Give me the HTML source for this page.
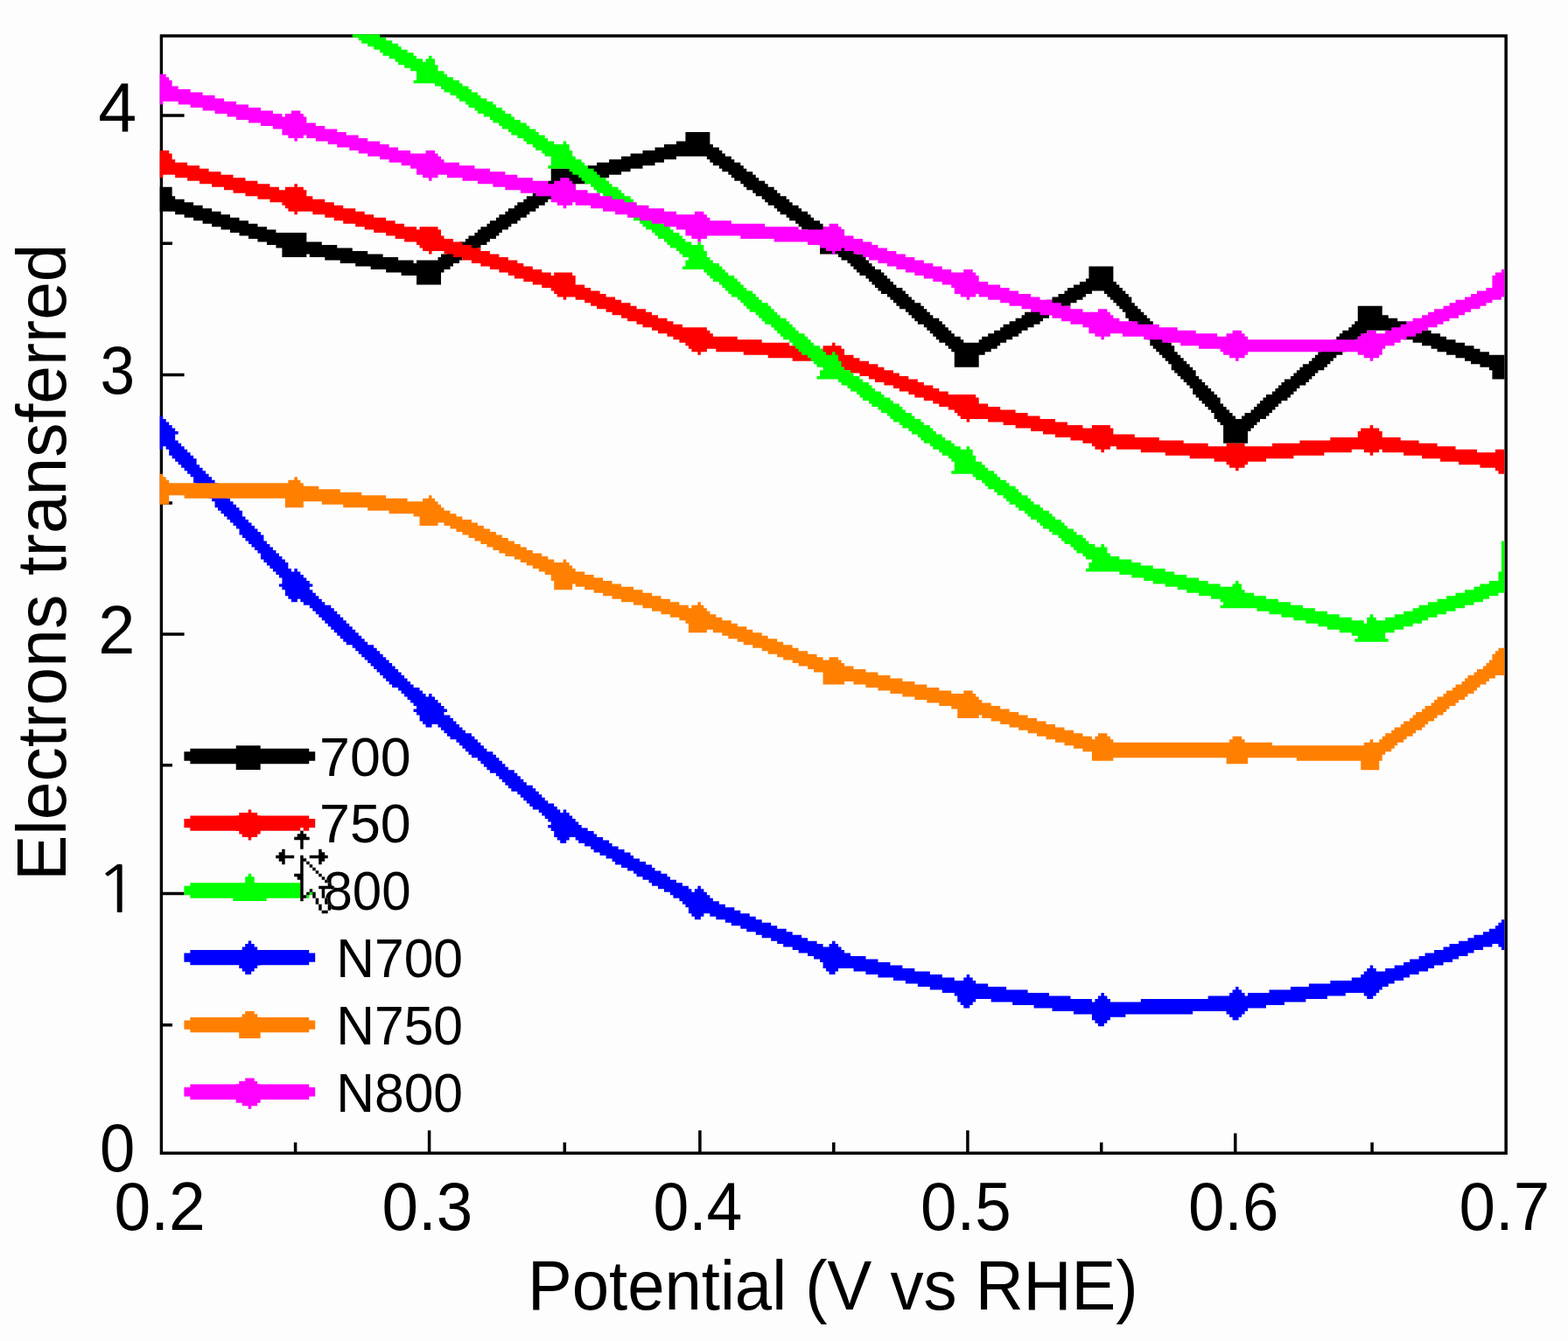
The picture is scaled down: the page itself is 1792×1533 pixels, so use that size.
<!DOCTYPE html>
<html lang="en"><head><meta charset="utf-8"><title>Electrons transferred vs Potential (V vs RHE)</title>
<style>html,body{margin:0;padding:0;background:#fdfdfd;}body{width:1792px;height:1533px;overflow:hidden;}svg{display:block;}text{font-family:"Liberation Sans",Arial,Helvetica,sans-serif;fill:#000;}</style>
</head><body>
<svg width="1792" height="1533" viewBox="0 0 1792 1533">
<rect width="1792" height="1533" fill="#fdfdfd"/>
<defs><clipPath id="plot"><rect x="182.7" y="39.3" width="1536.7" height="1277.1"/></clipPath></defs>
<path d="M182.7 39.3H186.1V1319.9H182.7zM1719.4 39.3H1722.9V1319.9H1719.4zM182.7 39.3H1722.9V42.75H182.7zM182.7 1316.4H1722.9V1319.9H182.7zM186.1 130.2H210.6V133.7H186.1zM186.1 426.65H210.6V430.15H186.1zM186.1 723.15H210.6V726.65H186.1zM186.1 1019.75H210.6V1023.25H186.1zM186.1 276.55H197V280.05H186.1zM186.1 573.25H197V576.75H186.1zM186.1 873.05H197V876.55H186.1zM186.1 1169.95H197V1173.45H186.1zM488.85 1292.2H492.35V1316.4H488.85zM798.15 1292.2H801.65V1316.4H798.15zM1104.15 1292.2H1107.65V1316.4H1104.15zM1410 1295.6H1413.5V1316.4H1410zM335.85 1306H339.35V1316.4H335.85zM643.55 1306H647.05V1316.4H643.55zM951.05 1306H954.55V1316.4H951.05zM1256.95 1306H1260.45V1316.4H1256.95zM1566.35 1306H1569.85V1316.4H1566.35z" fill="#000"/>
<path d="M783.41 150.96H811.35V154.45H783.41zM783.41 154.45H811.35V157.94H783.41zM783.41 157.94H811.35V161.43H783.41zM772.93 161.43H811.35V164.92H772.93zM758.96 164.92H814.84V168.41H758.96zM748.49 168.41H821.83V171.9H748.49zM734.52 171.9H825.32V175.38H734.52zM720.55 175.38H828.81V178.87H720.55zM710.07 178.87H772.93V182.36H710.07zM807.86 178.87H835.8V182.36H807.86zM696.1 182.36H758.96V185.85H696.1zM811.35 182.36H839.29V185.85H811.35zM682.13 185.85H748.49V189.34H682.13zM814.84 185.85H846.28V189.34H814.84zM671.65 189.34H734.52V192.83H671.65zM821.83 189.34H849.77V192.83H821.83zM629.74 192.83H720.55V196.32H629.74zM825.32 192.83H853.26V196.32H825.32zM629.74 196.32H710.07V199.81H629.74zM832.31 196.32H860.25V199.81H832.31zM629.74 199.81H696.1V203.3H629.74zM835.8 199.81H863.74V203.3H835.8zM629.74 203.3H682.13V206.79H629.74zM839.29 203.3H867.23V206.79H839.29zM626.25 206.79H671.65V210.28H626.25zM846.28 206.79H874.21V210.28H846.28zM622.75 210.28H657.68V213.77H622.75zM849.77 210.28H877.71V213.77H849.77zM182.7 213.77H196.67V217.26H182.7zM619.26 213.77H657.68V217.26H619.26zM853.26 213.77H884.69V217.26H853.26zM182.7 217.26H196.67V220.75H182.7zM612.28 217.26H657.68V220.75H612.28zM860.25 217.26H888.18V220.75H860.25zM182.7 220.75H196.67V224.24H182.7zM608.79 220.75H636.73V224.24H608.79zM863.74 220.75H891.68V224.24H863.74zM182.7 224.24H200.16V227.72H182.7zM601.8 224.24H633.23V227.72H601.8zM870.72 224.24H898.66V227.72H870.72zM182.7 227.72H210.64V231.21H182.7zM598.31 227.72H626.25V231.21H598.31zM874.21 227.72H902.15V231.21H874.21zM182.7 231.21H221.12V234.7H182.7zM591.32 231.21H622.75V234.7H591.32zM877.71 231.21H905.65V234.7H877.71zM182.7 234.7H231.59V238.19H182.7zM587.83 234.7H615.77V238.19H587.83zM884.69 234.7H912.63V238.19H884.69zM182.7 238.19H242.07V241.68H182.7zM580.85 238.19H612.28V241.68H580.85zM888.18 238.19H916.12V241.68H888.18zM200.16 241.68H252.55V245.17H200.16zM577.35 241.68H605.29V245.17H577.35zM891.68 241.68H923.11V245.17H891.68zM210.64 245.17H263.03V248.66H210.64zM570.37 245.17H601.8V248.66H570.37zM898.66 245.17H926.6V248.66H898.66zM221.12 248.66H273.5V252.15H221.12zM566.88 248.66H594.82V252.15H566.88zM902.15 248.66H930.1V252.15H902.15zM231.59 252.15H283.98V255.64H231.59zM559.89 252.15H591.32V255.64H559.89zM909.14 252.15H937.08V255.64H909.14zM242.07 255.64H294.46V259.13H242.07zM556.4 255.64H584.34V259.13H556.4zM912.63 255.64H940.57V259.13H912.63zM252.55 259.13H304.94V262.62H252.55zM549.41 259.13H580.85V262.62H549.41zM916.12 259.13H944.07V262.62H916.12zM263.03 262.62H315.41V266.11H263.03zM545.92 262.62H573.86V266.11H545.92zM923.11 262.62H965.02V266.11H923.11zM273.5 266.11H350.34V269.6H273.5zM542.43 266.11H570.37V269.6H542.43zM926.6 266.11H965.02V269.6H926.6zM283.98 269.6H350.34V273.09H283.98zM535.44 269.6H566.88V273.09H535.44zM930.1 269.6H965.02V273.09H930.1zM294.46 273.09H350.34V276.58H294.46zM531.95 273.09H559.89V276.58H531.95zM937.08 273.09H965.02V276.58H937.08zM304.94 276.58H367.8V280.06H304.94zM524.97 276.58H556.4V280.06H524.97zM937.08 276.58H968.51V280.06H937.08zM315.41 280.06H385.26V283.55H315.41zM521.47 280.06H549.41V283.55H521.47zM937.08 280.06H972.01V283.55H937.08zM322.4 283.55H402.73V287.04H322.4zM514.49 283.55H545.92V287.04H514.49zM937.08 283.55H975.5V287.04H937.08zM322.4 287.04H420.19V290.53H322.4zM511 287.04H538.93V290.53H511zM937.08 287.04H978.99V290.53H937.08zM322.4 290.53H350.34V294.02H322.4zM353.83 290.53H437.65V294.02H353.83zM504.01 290.53H535.44V294.02H504.01zM958.04 290.53H985.98V294.02H958.04zM371.29 294.02H455.12V297.51H371.29zM500.52 294.02H528.46V297.51H500.52zM961.53 294.02H989.47V297.51H961.53zM388.76 297.51H472.58V301H388.76zM476.07 297.51H524.97V301H476.07zM968.51 297.51H992.96V301H968.51zM406.22 301H517.98V304.49H406.22zM972.01 301H996.45V304.49H972.01zM423.68 304.49H514.49V307.98H423.68zM975.5 304.49H999.94V307.98H975.5zM1244.42 304.49H1272.36V307.98H1244.42zM441.14 307.98H507.5V311.47H441.14zM978.99 307.98H1006.93V311.47H978.99zM1244.42 307.98H1272.36V311.47H1244.42zM458.61 311.47H504.01V314.96H458.61zM982.48 311.47H1010.42V314.96H982.48zM1244.42 311.47H1272.36V314.96H1244.42zM476.07 314.96H504.01V318.45H476.07zM989.47 314.96H1013.91V318.45H989.47zM1244.42 314.96H1272.36V318.45H1244.42zM476.07 318.45H504.01V321.94H476.07zM992.96 318.45H1017.41V321.94H992.96zM1240.93 318.45H1272.36V321.94H1240.93zM476.07 321.94H504.01V325.43H476.07zM996.45 321.94H1020.9V325.43H996.45zM1233.94 321.94H1275.85V325.43H1233.94zM999.94 325.43H1024.39V328.92H999.94zM1226.96 325.43H1279.35V328.92H1226.96zM1003.44 328.92H1031.38V332.4H1003.44zM1219.97 328.92H1282.84V332.4H1219.97zM1006.93 332.4H1034.87V335.89H1006.93zM1216.48 332.4H1247.91V335.89H1216.48zM1261.88 332.4H1286.33V335.89H1261.88zM1013.91 335.89H1038.36V339.38H1013.91zM1209.5 335.89H1240.93V339.38H1209.5zM1265.38 335.89H1289.82V339.38H1265.38zM1017.41 339.38H1041.86V342.87H1017.41zM1202.51 339.38H1237.44V342.87H1202.51zM1268.87 339.38H1293.32V342.87H1268.87zM1020.9 342.87H1045.35V346.36H1020.9zM1195.53 342.87H1230.45V346.36H1195.53zM1272.36 342.87H1293.32V346.36H1272.36zM1024.39 346.36H1052.33V349.85H1024.39zM1192.03 346.36H1223.47V349.85H1192.03zM1275.85 346.36H1296.81V349.85H1275.85zM1027.88 349.85H1055.83V353.34H1027.88zM1185.05 349.85H1216.48V353.34H1185.05zM1279.35 349.85H1300.3V353.34H1279.35zM1551.76 349.85H1579.7V353.34H1551.76zM1034.87 353.34H1059.32V356.83H1034.87zM1178.06 353.34H1212.99V356.83H1178.06zM1282.84 353.34H1303.79V356.83H1282.84zM1551.76 353.34H1579.7V356.83H1551.76zM1038.36 356.83H1062.81V360.32H1038.36zM1171.08 356.83H1206V360.32H1171.08zM1286.33 356.83H1307.29V360.32H1286.33zM1551.76 356.83H1579.7V360.32H1551.76zM1041.86 360.32H1066.3V363.81H1041.86zM1167.59 360.32H1199.02V363.81H1167.59zM1286.33 360.32H1310.78V363.81H1286.33zM1551.76 360.32H1586.69V363.81H1551.76zM1045.35 363.81H1073.29V367.3H1045.35zM1160.6 363.81H1192.03V367.3H1160.6zM1289.82 363.81H1314.27V367.3H1289.82zM1551.76 363.81H1597.16V367.3H1551.76zM1048.84 367.3H1076.78V370.79H1048.84zM1153.62 367.3H1188.54V370.79H1153.62zM1293.32 367.3H1317.76V370.79H1293.32zM1548.27 367.3H1607.64V370.79H1548.27zM1055.83 370.79H1080.27V374.28H1055.83zM1146.63 370.79H1181.56V374.28H1146.63zM1296.81 370.79H1317.76V374.28H1296.81zM1544.78 370.79H1614.62V374.28H1544.78zM1059.32 374.28H1083.77V377.77H1059.32zM1143.14 374.28H1174.57V377.77H1143.14zM1300.3 374.28H1321.26V377.77H1300.3zM1541.28 374.28H1625.1V377.77H1541.28zM1062.81 377.77H1087.26V381.26H1062.81zM1136.15 377.77H1167.59V381.26H1136.15zM1303.79 377.77H1324.75V381.26H1303.79zM1534.3 377.77H1562.24V381.26H1534.3zM1586.69 377.77H1635.58V381.26H1586.69zM1066.3 381.26H1090.75V384.75H1066.3zM1129.17 381.26H1164.09V384.75H1129.17zM1307.29 381.26H1328.24V384.75H1307.29zM1530.81 381.26H1558.75V384.75H1530.81zM1597.16 381.26H1646.06V384.75H1597.16zM1069.8 384.75H1097.74V388.23H1069.8zM1122.18 384.75H1157.11V388.23H1122.18zM1310.78 384.75H1331.73V388.23H1310.78zM1527.31 384.75H1551.76V388.23H1527.31zM1604.15 384.75H1653.04V388.23H1604.15zM1073.29 388.23H1101.23V391.72H1073.29zM1118.69 388.23H1150.12V391.72H1118.69zM1314.27 388.23H1335.23V391.72H1314.27zM1523.82 388.23H1548.27V391.72H1523.82zM1614.62 388.23H1663.52V391.72H1614.62zM1080.27 391.72H1143.14V395.21H1080.27zM1314.27 391.72H1338.72V395.21H1314.27zM1520.33 391.72H1544.78V395.21H1520.33zM1625.1 391.72H1674V395.21H1625.1zM1083.77 395.21H1139.64V398.7H1083.77zM1317.76 395.21H1342.21V398.7H1317.76zM1513.34 395.21H1541.28V398.7H1513.34zM1635.58 395.21H1684.48V398.7H1635.58zM1087.26 398.7H1132.66V402.19H1087.26zM1321.26 398.7H1342.21V402.19H1321.26zM1509.85 398.7H1537.79V402.19H1509.85zM1642.57 398.7H1691.46V402.19H1642.57zM1090.75 402.19H1125.67V405.68H1090.75zM1324.75 402.19H1345.7V405.68H1324.75zM1506.36 402.19H1534.3V405.68H1506.36zM1653.04 402.19H1701.94V405.68H1653.04zM1090.75 405.68H1118.69V409.17H1090.75zM1328.24 405.68H1349.2V409.17H1328.24zM1502.87 405.68H1527.31V409.17H1502.87zM1663.52 405.68H1719.4V409.17H1663.52zM1090.75 409.17H1118.69V412.66H1090.75zM1331.73 409.17H1352.69V412.66H1331.73zM1499.37 409.17H1523.82V412.66H1499.37zM1674 409.17H1719.4V412.66H1674zM1090.75 412.66H1118.69V416.15H1090.75zM1335.23 412.66H1356.18V416.15H1335.23zM1495.88 412.66H1520.33V416.15H1495.88zM1680.98 412.66H1719.4V416.15H1680.98zM1090.75 416.15H1118.69V419.64H1090.75zM1338.72 416.15H1359.67V419.64H1338.72zM1488.9 416.15H1516.84V419.64H1488.9zM1691.46 416.15H1719.4V419.64H1691.46zM1338.72 419.64H1363.17V423.13H1338.72zM1485.4 419.64H1513.34V423.13H1485.4zM1701.94 419.64H1719.4V423.13H1701.94zM1342.21 423.13H1366.66V426.62H1342.21zM1481.91 423.13H1506.36V426.62H1481.91zM1705.43 423.13H1719.4V426.62H1705.43zM1345.7 426.62H1366.66V430.11H1345.7zM1478.42 426.62H1502.87V430.11H1478.42zM1705.43 426.62H1719.4V430.11H1705.43zM1349.2 430.11H1370.15V433.6H1349.2zM1474.93 430.11H1499.37V433.6H1474.93zM1705.43 430.11H1719.4V433.6H1705.43zM1352.69 433.6H1373.64V437.09H1352.69zM1467.94 433.6H1495.88V437.09H1467.94zM1356.18 437.09H1377.13V440.57H1356.18zM1464.45 437.09H1492.39V440.57H1464.45zM1359.67 440.57H1380.63V444.06H1359.67zM1460.96 440.57H1485.4V444.06H1460.96zM1363.17 444.06H1384.12V447.55H1363.17zM1457.46 444.06H1481.91V447.55H1457.46zM1363.17 447.55H1387.61V451.04H1363.17zM1453.97 447.55H1478.42V451.04H1453.97zM1366.66 451.04H1391.11V454.53H1366.66zM1446.99 451.04H1474.93V454.53H1446.99zM1370.15 454.53H1394.6V458.02H1370.15zM1443.49 454.53H1471.43V458.02H1443.49zM1373.64 458.02H1394.6V461.51H1373.64zM1440 458.02H1464.45V461.51H1440zM1377.13 461.51H1398.09V465H1377.13zM1436.51 461.51H1460.96V465H1436.51zM1380.63 465H1401.58V468.49H1380.63zM1433.02 465H1457.46V468.49H1433.02zM1384.12 468.49H1405.08V471.98H1384.12zM1429.52 468.49H1453.97V471.98H1429.52zM1387.61 471.98H1408.57V475.47H1387.61zM1422.54 471.98H1450.48V475.47H1422.54zM1387.61 475.47H1412.06V478.96H1387.61zM1419.05 475.47H1446.99V478.96H1419.05zM1391.11 478.96H1440V482.45H1391.11zM1394.6 482.45H1436.51V485.94H1394.6zM1398.09 485.94H1433.02V489.43H1398.09zM1398.09 489.43H1429.52V492.91H1398.09zM1398.09 492.91H1426.03V496.4H1398.09zM1398.09 496.4H1426.03V499.89H1398.09zM1398.09 499.89H1426.03V503.38H1398.09zM1398.09 503.38H1426.03V506.87H1398.09z" fill="#000000"/>
<path d="M182.7 171.9H193.18V175.38H182.7zM182.7 175.38H196.67V178.87H182.7zM182.7 178.87H196.67V182.36H182.7zM182.7 182.36H200.16V185.85H182.7zM182.7 185.85H214.13V189.34H182.7zM182.7 189.34H228.1V192.83H182.7zM182.7 192.83H238.58V196.32H182.7zM182.7 196.32H252.55V199.81H182.7zM182.7 199.81H186.19V203.3H182.7zM200.16 199.81H266.52V203.3H200.16zM214.13 203.3H280.49V206.79H214.13zM228.1 206.79H294.46V210.28H228.1zM242.07 210.28H308.43V213.77H242.07zM336.37 210.28H339.86V213.77H336.37zM256.04 213.77H318.91V217.26H256.04zM325.89 213.77H346.85V217.26H325.89zM266.52 217.26H350.34V220.75H266.52zM280.49 220.75H350.34V224.24H280.49zM294.46 224.24H357.32V227.72H294.46zM308.43 227.72H371.29V231.21H308.43zM322.4 231.21H381.77V234.7H322.4zM325.89 234.7H392.25V238.19H325.89zM329.38 238.19H406.22V241.68H329.38zM336.37 241.68H339.86V245.17H336.37zM357.32 241.68H416.7V245.17H357.32zM371.29 245.17H427.18V248.66H371.29zM381.77 248.66H441.14V252.15H381.77zM392.25 252.15H451.62V255.64H392.25zM406.22 255.64H462.1V259.13H406.22zM416.7 259.13H476.07V262.62H416.7zM479.56 259.13H500.52V262.62H479.56zM427.18 262.62H504.01V266.11H427.18zM441.14 266.11H504.01V269.6H441.14zM451.62 269.6H507.5V273.09H451.62zM462.1 273.09H517.98V276.58H462.1zM476.07 276.58H528.46V280.06H476.07zM479.56 280.06H538.93V283.55H479.56zM483.06 283.55H549.41V287.04H483.06zM490.04 287.04H493.53V290.53H490.04zM507.5 287.04H559.89V290.53H507.5zM517.98 290.53H570.37V294.02H517.98zM528.46 294.02H580.85V297.51H528.46zM538.93 297.51H591.32V301H538.93zM549.41 301H598.31V304.49H549.41zM559.89 304.49H608.79V307.98H559.89zM570.37 307.98H619.26V311.47H570.37zM580.85 311.47H629.74V314.96H580.85zM633.23 311.47H654.19V314.96H633.23zM587.83 314.96H657.68V318.45H587.83zM598.31 318.45H657.68V321.94H598.31zM608.79 321.94H657.68V325.43H608.79zM619.26 325.43H668.16V328.92H619.26zM629.74 328.92H675.14V332.4H629.74zM633.23 332.4H685.62V335.89H633.23zM636.73 335.89H692.61V339.38H636.73zM643.71 339.38H647.2V342.87H643.71zM657.68 339.38H703.08V342.87H657.68zM668.16 342.87H710.07V346.36H668.16zM675.14 346.36H720.55V349.85H675.14zM682.13 349.85H727.53V353.34H682.13zM692.61 353.34H738.01V356.83H692.61zM699.59 356.83H744.99V360.32H699.59zM710.07 360.32H751.98V363.81H710.07zM717.05 363.81H762.45V367.3H717.05zM727.53 367.3H769.44V370.79H727.53zM734.52 370.79H779.92V374.28H734.52zM744.99 374.28H807.86V377.77H744.99zM751.98 377.77H811.35V381.26H751.98zM762.45 381.26H814.84V384.75H762.45zM769.44 384.75H842.78V388.23H769.44zM776.42 388.23H870.72V391.72H776.42zM783.41 391.72H902.15V395.21H783.41zM951.05 391.72H954.54V395.21H951.05zM786.9 395.21H930.1V398.7H786.9zM940.57 395.21H961.53V398.7H940.57zM790.39 398.7H807.86V402.19H790.39zM818.34 398.7H965.02V402.19H818.34zM797.38 402.19H800.87V405.68H797.38zM849.77 402.19H965.02V405.68H849.77zM877.71 405.68H975.5V409.17H877.71zM905.65 409.17H982.48V412.66H905.65zM937.08 412.66H992.96V416.15H937.08zM940.57 416.15H1003.44V419.64H940.57zM944.07 419.64H961.53V423.13H944.07zM965.02 419.64H1010.42V423.13H965.02zM951.05 423.13H954.54V426.62H951.05zM972.01 423.13H1020.9V426.62H972.01zM982.48 426.62H1027.88V430.11H982.48zM992.96 430.11H1038.36V433.6H992.96zM999.94 433.6H1048.84V437.09H999.94zM1010.42 437.09H1055.83V440.57H1010.42zM1020.9 440.57H1066.3V444.06H1020.9zM1027.88 444.06H1073.29V447.55H1027.88zM1038.36 447.55H1083.77V451.04H1038.36zM1045.35 451.04H1115.2V454.53H1045.35zM1055.83 454.53H1118.69V458.02H1055.83zM1066.3 458.02H1118.69V461.51H1066.3zM1073.29 461.51H1129.17V465H1073.29zM1083.77 465H1143.14V468.49H1083.77zM1090.75 468.49H1160.6V471.98H1090.75zM1094.24 471.98H1174.57V475.47H1094.24zM1097.74 475.47H1188.54V478.96H1097.74zM1104.72 478.96H1108.21V482.45H1104.72zM1129.17 478.96H1206V482.45H1129.17zM1146.63 482.45H1219.97V485.94H1146.63zM1160.6 485.94H1237.44V489.43H1160.6zM1247.91 485.94H1268.87V489.43H1247.91zM1565.73 485.94H1569.22V489.43H1565.73zM1178.06 489.43H1272.36V492.91H1178.06zM1555.25 489.43H1576.21V492.91H1555.25zM1192.03 492.91H1272.36V496.4H1192.03zM1551.76 492.91H1579.7V496.4H1551.76zM1206 496.4H1296.81V499.89H1206zM1551.76 496.4H1579.7V499.89H1551.76zM1223.47 499.89H1324.75V503.38H1223.47zM1520.33 499.89H1600.66V503.38H1520.33zM1237.44 503.38H1352.69V506.87H1237.44zM1485.4 503.38H1621.61V506.87H1485.4zM1247.91 506.87H1380.63V510.36H1247.91zM1401.58 506.87H1422.54V510.36H1401.58zM1453.97 506.87H1642.57V510.36H1453.97zM1251.41 510.36H1268.87V513.85H1251.41zM1275.85 510.36H1663.52V513.85H1275.85zM1258.39 513.85H1261.88V517.34H1258.39zM1303.79 513.85H1544.78V517.34H1303.79zM1558.75 513.85H1576.21V517.34H1558.75zM1579.7 513.85H1687.97V517.34H1579.7zM1708.92 513.85H1719.4V517.34H1708.92zM1331.73 517.34H1513.34V520.83H1331.73zM1565.73 517.34H1569.22V520.83H1565.73zM1604.15 517.34H1719.4V520.83H1604.15zM1359.67 520.83H1478.42V524.32H1359.67zM1625.1 520.83H1719.4V524.32H1625.1zM1387.61 524.32H1446.99V527.81H1387.61zM1646.06 524.32H1719.4V527.81H1646.06zM1401.58 527.81H1426.03V531.3H1401.58zM1667.01 527.81H1719.4V531.3H1667.01zM1405.08 531.3H1422.54V534.79H1405.08zM1691.46 531.3H1719.4V534.79H1691.46zM1412.06 534.79H1415.55V538.28H1412.06zM1708.92 534.79H1719.4V538.28H1708.92zM1712.42 538.28H1719.4V541.77H1712.42z" fill="#ff0000"/>
<path d="M402.73 39.3H434.16V42.79H402.73zM409.71 42.79H441.14V46.28H409.71zM413.21 46.28H448.13V49.77H413.21zM420.19 49.77H455.12V53.26H420.19zM427.18 53.26H458.61V56.75H427.18zM434.16 56.75H465.59V60.24H434.16zM437.65 60.24H472.58V63.73H437.65zM444.64 63.73H476.07V67.21H444.64zM490.04 63.73H493.53V67.21H490.04zM451.62 67.21H483.06V70.7H451.62zM486.55 67.21H497.02V70.7H486.55zM455.12 70.7H497.02V74.19H455.12zM462.1 74.19H500.52V77.68H462.1zM469.08 77.68H500.52V81.17H469.08zM476.07 81.17H507.5V84.66H476.07zM476.07 84.66H511V88.15H476.07zM476.07 88.15H517.98V91.64H476.07zM472.58 91.64H524.97V95.13H472.58zM497.02 95.13H528.46V98.62H497.02zM504.01 98.62H535.44V102.11H504.01zM507.5 102.11H538.93V105.6H507.5zM514.49 105.6H545.92V109.09H514.49zM521.47 109.09H549.41V112.58H521.47zM524.97 112.58H556.4V116.07H524.97zM531.95 116.07H563.38V119.55H531.95zM535.44 119.55H566.88V123.04H535.44zM542.43 123.04H573.86V126.53H542.43zM545.92 126.53H577.35V130.02H545.92zM552.9 130.02H584.34V133.51H552.9zM559.89 133.51H587.83V137H559.89zM563.38 137H594.82V140.49H563.38zM570.37 140.49H601.8V143.98H570.37zM573.86 143.98H605.29V147.47H573.86zM580.85 147.47H612.28V150.96H580.85zM584.34 150.96H615.77V154.45H584.34zM591.32 154.45H622.75V157.94H591.32zM598.31 157.94H626.25V161.43H598.31zM601.8 161.43H633.23V164.92H601.8zM643.71 161.43H647.2V164.92H643.71zM608.79 164.92H650.69V168.41H608.79zM612.28 168.41H650.69V171.9H612.28zM619.26 171.9H654.19V175.38H619.26zM622.75 175.38H654.19V178.87H622.75zM629.74 178.87H657.68V182.36H629.74zM629.74 182.36H664.66V185.85H629.74zM629.74 185.85H668.16V189.34H629.74zM626.25 189.34H671.65V192.83H626.25zM650.69 192.83H678.63V196.32H650.69zM654.19 196.32H682.13V199.81H654.19zM661.17 199.81H685.62V203.3H661.17zM664.66 203.3H692.61V206.79H664.66zM668.16 206.79H696.1V210.28H668.16zM675.14 210.28H699.59V213.77H675.14zM678.63 213.77H706.58V217.26H678.63zM682.13 217.26H710.07V220.75H682.13zM689.11 220.75H713.56V224.24H689.11zM692.61 224.24H720.55V227.72H692.61zM696.1 227.72H724.04V231.21H696.1zM703.08 231.21H727.53V234.7H703.08zM706.58 234.7H734.52V238.19H706.58zM710.07 238.19H738.01V241.68H710.07zM717.05 241.68H741.5V245.17H717.05zM720.55 245.17H748.49V248.66H720.55zM724.04 248.66H751.98V252.15H724.04zM731.02 252.15H755.47V255.64H731.02zM734.52 255.64H762.45V259.13H734.52zM738.01 259.13H765.95V262.62H738.01zM744.99 262.62H769.44V266.11H744.99zM748.49 266.11H776.42V269.6H748.49zM751.98 269.6H779.92V273.09H751.98zM758.96 273.09H783.41V276.58H758.96zM762.45 276.58H790.39V280.06H762.45zM797.38 276.58H800.87V280.06H797.38zM765.95 280.06H804.37V283.55H765.95zM772.93 283.55H804.37V287.04H772.93zM776.42 287.04H807.86V290.53H776.42zM779.92 290.53H807.86V294.02H779.92zM786.9 294.02H811.35V297.51H786.9zM783.41 297.51H814.84V301H783.41zM783.41 301H821.83V304.49H783.41zM779.92 304.49H825.32V307.98H779.92zM804.37 307.98H828.81V311.47H804.37zM807.86 311.47H832.31V314.96H807.86zM811.35 314.96H839.29V318.45H811.35zM814.84 318.45H842.78V321.94H814.84zM821.83 321.94H846.28V325.43H821.83zM825.32 325.43H849.77V328.92H825.32zM828.81 328.92H853.26V332.4H828.81zM832.31 332.4H860.25V335.89H832.31zM835.8 335.89H863.74V339.38H835.8zM842.78 339.38H867.23V342.87H842.78zM846.28 342.87H870.72V346.36H846.28zM849.77 346.36H877.71V349.85H849.77zM853.26 349.85H881.2V353.34H853.26zM856.75 353.34H884.69V356.83H856.75zM863.74 356.83H888.18V360.32H863.74zM867.23 360.32H891.68V363.81H867.23zM870.72 363.81H898.66V367.3H870.72zM874.21 367.3H902.15V370.79H874.21zM881.2 370.79H905.65V374.28H881.2zM884.69 374.28H909.14V377.77H884.69zM888.18 377.77H912.63V381.26H888.18zM891.68 381.26H919.62V384.75H891.68zM895.17 384.75H923.11V388.23H895.17zM902.15 388.23H926.6V391.72H902.15zM905.65 391.72H930.1V395.21H905.65zM909.14 395.21H937.08V398.7H909.14zM912.63 398.7H940.57V402.19H912.63zM916.12 402.19H944.07V405.68H916.12zM951.05 402.19H954.54V405.68H951.05zM923.11 405.68H958.04V409.17H923.11zM926.6 409.17H958.04V412.66H926.6zM930.1 412.66H961.53V416.15H930.1zM933.59 416.15H961.53V419.64H933.59zM940.57 419.64H965.02V423.13H940.57zM937.08 423.13H972.01V426.62H937.08zM937.08 426.62H975.5V430.11H937.08zM933.59 430.11H982.48V433.6H933.59zM958.04 433.6H985.98V437.09H958.04zM961.53 437.09H992.96V440.57H961.53zM968.51 440.57H996.45V444.06H968.51zM972.01 444.06H999.94V447.55H972.01zM978.99 447.55H1006.93V451.04H978.99zM982.48 451.04H1010.42V454.53H982.48zM985.98 454.53H1017.41V458.02H985.98zM992.96 458.02H1020.9V461.51H992.96zM996.45 461.51H1027.88V465H996.45zM1003.44 465H1031.38V468.49H1003.44zM1006.93 468.49H1034.87V471.98H1006.93zM1013.91 471.98H1041.86V475.47H1013.91zM1017.41 475.47H1045.35V478.96H1017.41zM1020.9 478.96H1052.33V482.45H1020.9zM1027.88 482.45H1055.83V485.94H1027.88zM1031.38 485.94H1062.81V489.43H1031.38zM1038.36 489.43H1066.3V492.91H1038.36zM1041.86 492.91H1069.8V496.4H1041.86zM1048.84 496.4H1076.78V499.89H1048.84zM1052.33 499.89H1080.27V503.38H1052.33zM1055.83 503.38H1087.26V506.87H1055.83zM1062.81 506.87H1090.75V510.36H1062.81zM1066.3 510.36H1097.74V513.85H1066.3zM1104.72 510.36H1108.21V513.85H1104.72zM1073.29 513.85H1111.7V517.34H1073.29zM1076.78 517.34H1111.7V520.83H1076.78zM1083.77 520.83H1115.2V524.32H1083.77zM1087.26 524.32H1115.2V527.81H1087.26zM1090.75 527.81H1122.18V531.3H1090.75zM1090.75 531.3H1125.67V534.79H1090.75zM1090.75 534.79H1129.17V538.28H1090.75zM1087.26 538.28H1136.15V541.77H1087.26zM1111.7 541.77H1139.64V545.25H1111.7zM1115.2 545.25H1143.14V548.74H1115.2zM1122.18 548.74H1150.12V552.23H1122.18zM1125.67 552.23H1153.62V555.72H1125.67zM1129.17 555.72H1160.6V559.21H1129.17zM1136.15 559.21H1164.09V562.7H1136.15zM1139.64 562.7H1167.59V566.19H1139.64zM1146.63 566.19H1174.57V569.68H1146.63zM1150.12 569.68H1178.06V573.17H1150.12zM1153.62 573.17H1181.56V576.66H1153.62zM1160.6 576.66H1188.54V580.15H1160.6zM1164.09 580.15H1192.03V583.64H1164.09zM1171.08 583.64H1199.02V587.13H1171.08zM1174.57 587.13H1202.51V590.62H1174.57zM1178.06 590.62H1206V594.11H1178.06zM1185.05 594.11H1212.99V597.6H1185.05zM1188.54 597.6H1216.48V601.08H1188.54zM1192.03 601.08H1219.97V604.57H1192.03zM1199.02 604.57H1226.96V608.06H1199.02zM1202.51 608.06H1230.45V611.55H1202.51zM1209.5 611.55H1237.44V615.04H1209.5zM1212.99 615.04H1240.93V618.53H1212.99zM1216.48 618.53H1244.42V622.02H1216.48zM1715.91 618.53H1719.4V622.02H1715.91zM1223.47 622.02H1251.41V625.51H1223.47zM1258.39 622.02H1261.88V625.51H1258.39zM1715.91 622.02H1719.4V625.51H1715.91zM1226.96 625.51H1265.38V629H1226.96zM1715.91 625.51H1719.4V629H1715.91zM1230.45 629H1265.38V632.49H1230.45zM1715.91 629H1719.4V632.49H1715.91zM1237.44 632.49H1268.87V635.98H1237.44zM1715.91 632.49H1719.4V635.98H1715.91zM1240.93 635.98H1279.35V639.47H1240.93zM1715.91 635.98H1719.4V639.47H1715.91zM1247.91 639.47H1293.32V642.96H1247.91zM1715.91 639.47H1719.4V642.96H1715.91zM1244.42 642.96H1303.79V646.45H1244.42zM1715.91 642.96H1719.4V646.45H1715.91zM1244.42 646.45H1317.76V649.94H1244.42zM1715.91 646.45H1719.4V649.94H1715.91zM1240.93 649.94H1331.73V653.42H1240.93zM1715.91 649.94H1719.4V653.42H1715.91zM1279.35 653.42H1342.21V656.91H1279.35zM1712.42 653.42H1719.4V656.91H1712.42zM1293.32 656.91H1356.18V660.4H1293.32zM1712.42 656.91H1719.4V660.4H1712.42zM1307.29 660.4H1370.15V663.89H1307.29zM1712.42 660.4H1719.4V663.89H1712.42zM1317.76 663.89H1380.63V667.38H1317.76zM1412.06 663.89H1415.55V667.38H1412.06zM1701.94 663.89H1719.4V667.38H1701.94zM1331.73 667.38H1394.6V670.87H1331.73zM1408.57 667.38H1419.05V670.87H1408.57zM1691.46 667.38H1719.4V670.87H1691.46zM1345.7 670.87H1419.05V674.36H1345.7zM1684.48 670.87H1719.4V674.36H1684.48zM1356.18 674.36H1422.54V677.85H1356.18zM1674 674.36H1719.4V677.85H1674zM1370.15 677.85H1433.02V681.34H1370.15zM1663.52 677.85H1712.42V681.34H1663.52zM1384.12 681.34H1446.99V684.83H1384.12zM1653.04 681.34H1701.94V684.83H1653.04zM1394.6 684.83H1460.96V688.32H1394.6zM1642.57 684.83H1694.95V688.32H1642.57zM1398.09 688.32H1474.93V691.81H1398.09zM1632.09 688.32H1684.48V691.81H1632.09zM1394.6 691.81H1488.9V695.3H1394.6zM1621.61 691.81H1674V695.3H1621.61zM1436.51 695.3H1502.87V698.79H1436.51zM1614.62 695.3H1663.52V698.79H1614.62zM1450.48 698.79H1516.84V702.28H1450.48zM1604.15 698.79H1653.04V702.28H1604.15zM1464.45 702.28H1530.81V705.76H1464.45zM1565.73 702.28H1569.22V705.76H1565.73zM1593.67 702.28H1642.57V705.76H1593.67zM1478.42 705.76H1544.78V709.25H1478.42zM1562.24 705.76H1572.72V709.25H1562.24zM1583.19 705.76H1632.09V709.25H1583.19zM1492.39 709.25H1558.75V712.74H1492.39zM1562.24 709.25H1625.1V712.74H1562.24zM1506.36 712.74H1614.62V716.23H1506.36zM1516.84 716.23H1604.15V719.72H1516.84zM1530.81 719.72H1593.67V723.21H1530.81zM1544.78 723.21H1583.19V726.7H1544.78zM1551.76 726.7H1583.19V730.19H1551.76zM1548.27 730.19H1586.69V733.68H1548.27z" fill="#00ff00"/>
<path d="M182.7 475.47H186.19V478.96H182.7zM182.7 478.96H189.69V482.45H182.7zM182.7 482.45H193.18V485.94H182.7zM182.7 485.94H196.67V489.43H182.7zM182.7 489.43H200.16V492.91H182.7zM182.7 492.91H203.66V496.4H182.7zM182.7 496.4H200.16V499.89H182.7zM182.7 499.89H200.16V503.38H182.7zM182.7 503.38H203.66V506.87H182.7zM182.7 506.87H207.15V510.36H182.7zM182.7 510.36H186.19V513.85H182.7zM189.69 510.36H210.64V513.85H189.69zM193.18 513.85H214.13V517.34H193.18zM193.18 517.34H217.62V520.83H193.18zM196.67 520.83H221.12V524.32H196.67zM200.16 524.32H224.61V527.81H200.16zM203.66 527.81H224.61V531.3H203.66zM207.15 531.3H228.1V534.79H207.15zM210.64 534.79H231.59V538.28H210.64zM214.13 538.28H235.09V541.77H214.13zM217.62 541.77H238.58V545.25H217.62zM221.12 545.25H242.07V548.74H221.12zM221.12 548.74H245.56V552.23H221.12zM224.61 552.23H249.06V555.72H224.61zM228.1 555.72H252.55V559.21H228.1zM231.59 559.21H252.55V562.7H231.59zM235.09 562.7H256.04V566.19H235.09zM238.58 566.19H259.53V569.68H238.58zM242.07 569.68H263.03V573.17H242.07zM245.56 573.17H266.52V576.66H245.56zM245.56 576.66H270.01V580.15H245.56zM249.06 580.15H273.5V583.64H249.06zM252.55 583.64H277V587.13H252.55zM256.04 587.13H277V590.62H256.04zM259.53 590.62H280.49V594.11H259.53zM263.03 594.11H283.98V597.6H263.03zM266.52 597.6H287.48V601.08H266.52zM270.01 601.08H290.97V604.57H270.01zM273.5 604.57H294.46V608.06H273.5zM273.5 608.06H297.95V611.55H273.5zM277 611.55H301.44V615.04H277zM280.49 615.04H301.44V618.53H280.49zM283.98 618.53H304.94V622.02H283.98zM287.48 622.02H308.43V625.51H287.48zM290.97 625.51H311.92V629H290.97zM294.46 629H315.41V632.49H294.46zM297.95 632.49H318.91V635.98H297.95zM297.95 635.98H322.4V639.47H297.95zM301.44 639.47H325.89V642.96H301.44zM304.94 642.96H329.38V646.45H304.94zM308.43 646.45H329.38V649.94H308.43zM311.92 649.94H332.88V653.42H311.92zM336.37 649.94H339.86V653.42H336.37zM315.41 653.42H343.36V656.91H315.41zM318.91 656.91H346.85V660.4H318.91zM322.4 660.4H350.34V663.89H322.4zM322.4 663.89H353.83V667.38H322.4zM318.91 667.38H357.32V670.87H318.91zM322.4 670.87H353.83V674.36H322.4zM325.89 674.36H357.32V677.85H325.89zM325.89 677.85H360.82V681.34H325.89zM329.38 681.34H364.31V684.83H329.38zM332.88 684.83H339.86V688.32H332.88zM343.36 684.83H367.8V688.32H343.36zM346.85 688.32H371.29V691.81H346.85zM353.83 691.81H378.28V695.3H353.83zM357.32 695.3H381.77V698.79H357.32zM360.82 698.79H385.26V702.28H360.82zM364.31 702.28H388.76V705.76H364.31zM367.8 705.76H392.25V709.25H367.8zM371.29 709.25H395.74V712.74H371.29zM374.79 712.74H399.24V716.23H374.79zM378.28 716.23H402.73V719.72H378.28zM381.77 719.72H406.22V723.21H381.77zM385.26 723.21H409.71V726.7H385.26zM388.76 726.7H413.21V730.19H388.76zM392.25 730.19H416.7V733.68H392.25zM395.74 733.68H420.19V737.17H395.74zM402.73 737.17H427.18V740.66H402.73zM406.22 740.66H430.67V744.15H406.22zM409.71 744.15H434.16V747.64H409.71zM413.21 747.64H437.65V751.13H413.21zM416.7 751.13H441.14V754.62H416.7zM420.19 754.62H444.64V758.1H420.19zM423.68 758.1H448.13V761.59H423.68zM427.18 761.59H451.62V765.08H427.18zM430.67 765.08H455.12V768.57H430.67zM434.16 768.57H458.61V772.06H434.16zM437.65 772.06H462.1V775.55H437.65zM441.14 775.55H465.59V779.04H441.14zM444.64 779.04H469.08V782.53H444.64zM448.13 782.53H472.58V786.02H448.13zM455.12 786.02H479.56V789.51H455.12zM458.61 789.51H483.06V793H458.61zM462.1 793H486.55V796.49H462.1zM490.04 793H493.53V796.49H490.04zM465.59 796.49H497.02V799.98H465.59zM469.08 799.98H500.52V803.47H469.08zM472.58 803.47H504.01V806.96H472.58zM476.07 806.96H507.5V810.45H476.07zM472.58 810.45H511V813.93H472.58zM476.07 813.93H507.5V817.42H476.07zM479.56 817.42H514.49V820.91H479.56zM479.56 820.91H517.98V824.4H479.56zM483.06 824.4H521.47V827.89H483.06zM486.55 827.89H493.53V831.38H486.55zM500.52 827.89H524.97V831.38H500.52zM504.01 831.38H528.46V834.87H504.01zM507.5 834.87H531.95V838.36H507.5zM511 838.36H538.93V841.85H511zM514.49 841.85H542.43V845.34H514.49zM521.47 845.34H545.92V848.83H521.47zM524.97 848.83H549.41V852.32H524.97zM528.46 852.32H552.9V855.81H528.46zM531.95 855.81H556.4V859.3H531.95zM535.44 859.3H563.38V862.79H535.44zM538.93 862.79H566.88V866.27H538.93zM545.92 866.27H570.37V869.76H545.92zM549.41 869.76H573.86V873.25H549.41zM552.9 873.25H577.35V876.74H552.9zM556.4 876.74H580.85V880.23H556.4zM559.89 880.23H587.83V883.72H559.89zM566.88 883.72H591.32V887.21H566.88zM570.37 887.21H594.82V890.7H570.37zM573.86 890.7H598.31V894.19H573.86zM577.35 894.19H601.8V897.68H577.35zM580.85 897.68H608.79V901.17H580.85zM584.34 901.17H612.28V904.66H584.34zM591.32 904.66H615.77V908.15H591.32zM594.82 908.15H619.26V911.64H594.82zM598.31 911.64H622.75V915.13H598.31zM601.8 915.13H626.25V918.61H601.8zM605.29 918.61H633.23V922.1H605.29zM608.79 922.1H636.73V925.59H608.79zM615.77 925.59H640.22V929.08H615.77zM643.71 925.59H647.2V929.08H643.71zM619.26 929.08H650.69V932.57H619.26zM622.75 932.57H654.19V936.06H622.75zM626.25 936.06H657.68V939.55H626.25zM629.74 939.55H661.17V943.04H629.74zM626.25 943.04H664.66V946.53H626.25zM629.74 946.53H671.65V950.02H629.74zM633.23 950.02H678.63V953.51H633.23zM633.23 953.51H682.13V957H633.23zM636.73 957H650.69V960.49H636.73zM657.68 957H689.11V960.49H657.68zM640.22 960.49H647.2V963.98H640.22zM661.17 960.49H696.1V963.98H661.17zM668.16 963.98H699.59V967.47H668.16zM675.14 967.47H706.58V970.95H675.14zM678.63 970.95H713.56V974.44H678.63zM685.62 974.44H720.55V977.93H685.62zM692.61 977.93H724.04V981.42H692.61zM699.59 981.42H731.02V984.91H699.59zM703.08 984.91H738.01V988.4H703.08zM710.07 988.4H744.99V991.89H710.07zM717.05 991.89H748.49V995.38H717.05zM724.04 995.38H755.47V998.87H724.04zM727.53 998.87H762.45V1002.36H727.53zM734.52 1002.36H765.95V1005.85H734.52zM741.5 1005.85H772.93V1009.34H741.5zM744.99 1009.34H779.92V1012.83H744.99zM751.98 1012.83H786.9V1016.32H751.98zM797.38 1012.83H800.87V1016.32H797.38zM758.96 1016.32H790.39V1019.81H758.96zM793.89 1016.32H804.37V1019.81H793.89zM765.95 1019.81H807.86V1023.3H765.95zM769.44 1023.3H811.35V1026.78H769.44zM776.42 1026.78H814.84V1030.27H776.42zM779.92 1030.27H821.83V1033.76H779.92zM783.41 1033.76H828.81V1037.25H783.41zM786.9 1037.25H839.29V1040.74H786.9zM786.9 1040.74H846.28V1044.23H786.9zM790.39 1044.23H804.37V1047.72H790.39zM811.35 1044.23H856.75V1047.72H811.35zM793.89 1047.72H800.87V1051.21H793.89zM818.34 1047.72H863.74V1051.21H818.34zM828.81 1051.21H870.72V1054.7H828.81zM1715.91 1051.21H1719.4V1054.7H1715.91zM835.8 1054.7H881.2V1058.19H835.8zM1712.42 1054.7H1719.4V1058.19H1712.42zM846.28 1058.19H888.18V1061.68H846.28zM1708.92 1058.19H1719.4V1061.68H1708.92zM853.26 1061.68H898.66V1065.17H853.26zM1701.94 1061.68H1719.4V1065.17H1701.94zM863.74 1065.17H905.65V1068.66H863.74zM1694.95 1065.17H1719.4V1068.66H1694.95zM870.72 1068.66H916.12V1072.15H870.72zM1684.48 1068.66H1719.4V1072.15H1684.48zM881.2 1072.15H923.11V1075.64H881.2zM1677.49 1072.15H1719.4V1075.64H1677.49zM888.18 1075.64H933.59V1079.12H888.18zM951.05 1075.64H954.54V1079.12H951.05zM1667.01 1075.64H1719.4V1079.12H1667.01zM895.17 1079.12H940.57V1082.61H895.17zM947.56 1079.12H958.04V1082.61H947.56zM1656.54 1079.12H1705.43V1082.61H1656.54zM1712.42 1079.12H1719.4V1082.61H1712.42zM905.65 1082.61H961.53V1086.1H905.65zM1649.55 1082.61H1694.95V1086.1H1649.55zM1715.91 1082.61H1719.4V1086.1H1715.91zM912.63 1086.1H965.02V1089.59H912.63zM1639.07 1086.1H1684.48V1089.59H1639.07zM923.11 1089.59H972.01V1093.08H923.11zM1628.6 1089.59H1677.49V1093.08H1628.6zM930.1 1093.08H989.47V1096.57H930.1zM1621.61 1093.08H1667.01V1096.57H1621.61zM937.08 1096.57H1003.44V1100.06H937.08zM1611.13 1096.57H1660.03V1100.06H1611.13zM940.57 1100.06H1017.41V1103.55H940.57zM1604.15 1100.06H1649.55V1103.55H1604.15zM940.57 1103.55H1031.38V1107.04H940.57zM1565.73 1103.55H1569.22V1107.04H1565.73zM1593.67 1103.55H1639.07V1107.04H1593.67zM944.07 1107.04H958.04V1110.53H944.07zM975.5 1107.04H1045.35V1110.53H975.5zM1562.24 1107.04H1572.72V1110.53H1562.24zM1583.19 1107.04H1632.09V1110.53H1583.19zM947.56 1110.53H954.54V1114.02H947.56zM989.47 1110.53H1062.81V1114.02H989.47zM1558.75 1110.53H1621.61V1114.02H1558.75zM1003.44 1114.02H1076.78V1117.51H1003.44zM1104.72 1114.02H1108.21V1117.51H1104.72zM1555.25 1114.02H1611.13V1117.51H1555.25zM1020.9 1117.51H1090.75V1121H1020.9zM1101.23 1117.51H1111.7V1121H1101.23zM1544.78 1117.51H1604.15V1121H1544.78zM1034.87 1121H1115.2V1124.49H1034.87zM1520.33 1121H1593.67V1124.49H1520.33zM1048.84 1124.49H1129.17V1127.98H1048.84zM1495.88 1124.49H1586.69V1127.98H1495.88zM1062.81 1127.98H1150.12V1131.46H1062.81zM1412.06 1127.98H1415.55V1131.46H1412.06zM1474.93 1127.98H1579.7V1131.46H1474.93zM1076.78 1131.46H1174.57V1134.95H1076.78zM1408.57 1131.46H1419.05V1134.95H1408.57zM1450.48 1131.46H1576.21V1134.95H1450.48zM1090.75 1134.95H1199.02V1138.44H1090.75zM1258.39 1134.95H1261.88V1138.44H1258.39zM1405.08 1134.95H1422.54V1138.44H1405.08zM1426.03 1134.95H1537.79V1138.44H1426.03zM1558.75 1134.95H1572.72V1138.44H1558.75zM1094.24 1138.44H1223.47V1141.93H1094.24zM1254.9 1138.44H1265.38V1141.93H1254.9zM1380.63 1138.44H1516.84V1141.93H1380.63zM1562.24 1138.44H1569.22V1141.93H1562.24zM1094.24 1141.93H1115.2V1145.42H1094.24zM1132.66 1141.93H1247.91V1145.42H1132.66zM1251.41 1141.93H1268.87V1145.42H1251.41zM1303.79 1141.93H1492.39V1145.42H1303.79zM1097.74 1145.42H1111.7V1148.91H1097.74zM1157.11 1145.42H1467.94V1148.91H1157.11zM1101.23 1148.91H1108.21V1152.4H1101.23zM1181.56 1148.91H1446.99V1152.4H1181.56zM1202.51 1152.4H1426.03V1155.89H1202.51zM1226.96 1155.89H1363.17V1159.38H1226.96zM1401.58 1155.89H1422.54V1159.38H1401.58zM1247.91 1159.38H1286.33V1162.87H1247.91zM1405.08 1159.38H1419.05V1162.87H1405.08zM1247.91 1162.87H1268.87V1166.36H1247.91zM1408.57 1162.87H1415.55V1166.36H1408.57zM1251.41 1166.36H1265.38V1169.85H1251.41zM1254.9 1169.85H1261.88V1173.34H1254.9z" fill="#0000ff"/>
<path d="M182.7 541.77H186.19V545.25H182.7zM182.7 545.25H189.69V548.74H182.7zM336.37 545.25H339.86V548.74H336.37zM182.7 548.74H193.18V552.23H182.7zM329.38 548.74H343.36V552.23H329.38zM182.7 552.23H346.85V555.72H182.7zM182.7 555.72H364.31V559.21H182.7zM182.7 559.21H388.76V562.7H182.7zM182.7 562.7H413.21V566.19H182.7zM182.7 566.19H193.18V569.68H182.7zM210.64 566.19H441.14V569.68H210.64zM490.04 566.19H493.53V569.68H490.04zM182.7 569.68H193.18V573.17H182.7zM325.89 569.68H465.59V573.17H325.89zM483.06 569.68H497.02V573.17H483.06zM182.7 573.17H193.18V576.66H182.7zM325.89 573.17H346.85V576.66H325.89zM367.8 573.17H500.52V576.66H367.8zM325.89 576.66H346.85V580.15H325.89zM392.25 576.66H504.01V580.15H392.25zM420.19 580.15H507.5V583.64H420.19zM444.64 583.64H514.49V587.13H444.64zM472.58 587.13H521.47V590.62H472.58zM479.56 590.62H528.46V594.11H479.56zM479.56 594.11H538.93V597.6H479.56zM479.56 597.6H500.52V601.08H479.56zM507.5 597.6H545.92V601.08H507.5zM514.49 601.08H552.9V604.57H514.49zM521.47 604.57H559.89V608.06H521.47zM528.46 608.06H566.88V611.55H528.46zM535.44 611.55H573.86V615.04H535.44zM542.43 615.04H580.85V618.53H542.43zM549.41 618.53H587.83V622.02H549.41zM556.4 622.02H594.82V625.51H556.4zM563.38 625.51H601.8V629H563.38zM570.37 629H608.79V632.49H570.37zM577.35 632.49H619.26V635.98H577.35zM587.83 635.98H626.25V639.47H587.83zM594.82 639.47H633.23V642.96H594.82zM643.71 639.47H647.2V642.96H643.71zM601.8 642.96H650.69V646.45H601.8zM608.79 646.45H654.19V649.94H608.79zM615.77 649.94H657.68V653.42H615.77zM622.75 653.42H668.16V656.91H622.75zM629.74 656.91H678.63V660.4H629.74zM629.74 660.4H689.11V663.89H629.74zM633.23 663.89H699.59V667.38H633.23zM633.23 667.38H654.19V670.87H633.23zM657.68 667.38H710.07V670.87H657.68zM633.23 670.87H654.19V674.36H633.23zM668.16 670.87H724.04V674.36H668.16zM678.63 674.36H734.52V677.85H678.63zM689.11 677.85H744.99V681.34H689.11zM699.59 681.34H755.47V684.83H699.59zM710.07 684.83H765.95V688.32H710.07zM724.04 688.32H776.42V691.81H724.04zM797.38 688.32H800.87V691.81H797.38zM734.52 691.81H786.9V695.3H734.52zM790.39 691.81H804.37V695.3H790.39zM744.99 695.3H807.86V698.79H744.99zM755.47 698.79H811.35V702.28H755.47zM765.95 702.28H818.34V705.76H765.95zM776.42 705.76H825.32V709.25H776.42zM783.41 709.25H835.8V712.74H783.41zM786.9 712.74H842.78V716.23H786.9zM786.9 716.23H853.26V719.72H786.9zM786.9 719.72H807.86V723.21H786.9zM814.84 719.72H860.25V723.21H814.84zM825.32 723.21H870.72V726.7H825.32zM832.31 726.7H877.71V730.19H832.31zM842.78 730.19H888.18V733.68H842.78zM849.77 733.68H895.17V737.17H849.77zM860.25 737.17H905.65V740.66H860.25zM870.72 740.66H912.63V744.15H870.72zM1712.42 740.66H1719.4V744.15H1712.42zM877.71 744.15H923.11V747.64H877.71zM1708.92 744.15H1719.4V747.64H1708.92zM888.18 747.64H933.59V751.13H888.18zM1705.43 747.64H1719.4V751.13H1705.43zM895.17 751.13H940.57V754.62H895.17zM947.56 751.13H958.04V754.62H947.56zM1705.43 751.13H1719.4V754.62H1705.43zM905.65 754.62H961.53V758.1H905.65zM1701.94 754.62H1719.4V758.1H1701.94zM912.63 758.1H965.02V761.59H912.63zM1698.45 758.1H1719.4V761.59H1698.45zM923.11 761.59H975.5V765.08H923.11zM1694.95 761.59H1719.4V765.08H1694.95zM930.1 765.08H989.47V768.57H930.1zM1687.97 765.08H1719.4V768.57H1687.97zM940.57 768.57H1003.44V772.06H940.57zM1684.48 768.57H1719.4V772.06H1684.48zM940.57 772.06H1017.41V775.55H940.57zM1677.49 772.06H1708.92V775.55H1677.49zM940.57 775.55H1031.38V779.04H940.57zM1674 775.55H1701.94V779.04H1674zM940.57 779.04H965.02V782.53H940.57zM975.5 779.04H1045.35V782.53H975.5zM1670.51 779.04H1698.45V782.53H1670.51zM989.47 782.53H1059.32V786.02H989.47zM1663.52 782.53H1691.46V786.02H1663.52zM1003.44 786.02H1073.29V789.51H1003.44zM1660.03 786.02H1687.97V789.51H1660.03zM1017.41 789.51H1087.26V793H1017.41zM1101.23 789.51H1111.7V793H1101.23zM1653.04 789.51H1684.48V793H1653.04zM1031.38 793H1115.2V796.49H1031.38zM1649.55 793H1677.49V796.49H1649.55zM1045.35 796.49H1118.69V799.98H1045.35zM1642.57 796.49H1674V799.98H1642.57zM1059.32 799.98H1122.18V803.47H1059.32zM1639.07 799.98H1667.01V803.47H1639.07zM1073.29 803.47H1132.66V806.96H1073.29zM1635.58 803.47H1663.52V806.96H1635.58zM1087.26 806.96H1143.14V810.45H1087.26zM1628.6 806.96H1656.54V810.45H1628.6zM1094.24 810.45H1153.62V813.93H1094.24zM1625.1 810.45H1653.04V813.93H1625.1zM1094.24 813.93H1164.09V817.42H1094.24zM1618.12 813.93H1649.55V817.42H1618.12zM1094.24 817.42H1118.69V820.91H1094.24zM1122.18 817.42H1174.57V820.91H1122.18zM1614.62 817.42H1642.57V820.91H1614.62zM1132.66 820.91H1185.05V824.4H1132.66zM1611.13 820.91H1639.07V824.4H1611.13zM1143.14 824.4H1195.53V827.89H1143.14zM1604.15 824.4H1632.09V827.89H1604.15zM1153.62 827.89H1206V831.38H1153.62zM1600.66 827.89H1628.6V831.38H1600.66zM1164.09 831.38H1216.48V834.87H1164.09zM1593.67 831.38H1625.1V834.87H1593.67zM1174.57 834.87H1226.96V838.36H1174.57zM1590.18 834.87H1618.12V838.36H1590.18zM1185.05 838.36H1237.44V841.85H1185.05zM1254.9 838.36H1265.38V841.85H1254.9zM1583.19 838.36H1614.62V841.85H1583.19zM1195.53 841.85H1247.91V845.34H1195.53zM1251.41 841.85H1268.87V845.34H1251.41zM1408.57 841.85H1419.05V845.34H1408.57zM1579.7 841.85H1607.64V845.34H1579.7zM1206 845.34H1272.36V848.83H1206zM1405.08 845.34H1422.54V848.83H1405.08zM1565.73 845.34H1569.22V848.83H1565.73zM1576.21 845.34H1604.15V848.83H1576.21zM1216.48 848.83H1453.97V852.32H1216.48zM1558.75 848.83H1597.16V852.32H1558.75zM1226.96 852.32H1593.67V855.81H1226.96zM1237.44 855.81H1590.18V859.3H1237.44zM1247.91 859.3H1583.19V862.79H1247.91zM1247.91 862.79H1579.7V866.27H1247.91zM1247.91 866.27H1272.36V869.76H1247.91zM1401.58 866.27H1426.03V869.76H1401.58zM1481.91 866.27H1579.7V869.76H1481.91zM1401.58 869.76H1426.03V873.25H1401.58zM1555.25 869.76H1576.21V873.25H1555.25zM1555.25 873.25H1576.21V876.74H1555.25zM1555.25 876.74H1576.21V880.23H1555.25z" fill="#ff8000"/>
<path d="M182.7 84.66H189.69V88.15H182.7zM182.7 88.15H193.18V91.64H182.7zM182.7 91.64H196.67V95.13H182.7zM182.7 95.13H196.67V98.62H182.7zM182.7 98.62H203.66V102.11H182.7zM182.7 102.11H217.62V105.6H182.7zM182.7 105.6H231.59V109.09H182.7zM182.7 109.09H245.56V112.58H182.7zM182.7 112.58H256.04V116.07H182.7zM182.7 116.07H186.19V119.55H182.7zM203.66 116.07H270.01V119.55H203.66zM217.62 119.55H283.98V123.04H217.62zM231.59 123.04H297.95V126.53H231.59zM245.56 126.53H311.92V130.02H245.56zM332.88 126.53H343.36V130.02H332.88zM259.53 130.02H322.4V133.51H259.53zM325.89 130.02H346.85V133.51H325.89zM270.01 133.51H350.34V137H270.01zM283.98 137H350.34V140.49H283.98zM297.95 140.49H360.82V143.98H297.95zM311.92 143.98H371.29V147.47H311.92zM322.4 147.47H385.26V150.96H322.4zM322.4 150.96H395.74V154.45H322.4zM329.38 154.45H346.85V157.94H329.38zM350.34 154.45H409.71V157.94H350.34zM336.37 157.94H339.86V161.43H336.37zM360.82 157.94H420.19V161.43H360.82zM374.79 161.43H434.16V164.92H374.79zM385.26 164.92H444.64V168.41H385.26zM399.24 168.41H455.12V171.9H399.24zM409.71 171.9H469.08V175.38H409.71zM486.55 171.9H497.02V175.38H486.55zM420.19 175.38H500.52V178.87H420.19zM434.16 178.87H504.01V182.36H434.16zM444.64 182.36H507.5V185.85H444.64zM458.61 185.85H524.97V189.34H458.61zM469.08 189.34H542.43V192.83H469.08zM476.07 192.83H559.89V196.32H476.07zM476.07 196.32H577.35V199.81H476.07zM483.06 199.81H500.52V203.3H483.06zM511 199.81H591.32V203.3H511zM490.04 203.3H493.53V206.79H490.04zM528.46 203.3H608.79V206.79H528.46zM640.22 203.3H650.69V206.79H640.22zM545.92 206.79H626.25V210.28H545.92zM633.23 206.79H654.19V210.28H633.23zM563.38 210.28H657.68V213.77H563.38zM577.35 213.77H657.68V217.26H577.35zM594.82 217.26H671.65V220.75H594.82zM612.28 220.75H685.62V224.24H612.28zM629.74 224.24H699.59V227.72H629.74zM629.74 227.72H713.56V231.21H629.74zM636.73 231.21H654.19V234.7H636.73zM657.68 231.21H727.53V234.7H657.68zM643.71 234.7H647.2V238.19H643.71zM675.14 234.7H741.5V238.19H675.14zM689.11 238.19H758.96V241.68H689.11zM703.08 241.68H772.93V245.17H703.08zM793.89 241.68H804.37V245.17H793.89zM717.05 245.17H807.86V248.66H717.05zM731.02 248.66H811.35V252.15H731.02zM744.99 252.15H835.8V255.64H744.99zM758.96 255.64H874.21V259.13H758.96zM947.56 255.64H958.04V259.13H947.56zM772.93 259.13H912.63V262.62H772.93zM940.57 259.13H961.53V262.62H940.57zM783.41 262.62H965.02V266.11H783.41zM783.41 266.11H965.02V269.6H783.41zM790.39 269.6H807.86V273.09H790.39zM846.28 269.6H975.5V273.09H846.28zM797.38 273.09H800.87V276.58H797.38zM884.69 273.09H985.98V276.58H884.69zM923.11 276.58H996.45V280.06H923.11zM937.08 280.06H1003.44V283.55H937.08zM944.07 283.55H961.53V287.04H944.07zM965.02 283.55H1013.91V287.04H965.02zM951.05 287.04H954.54V290.53H951.05zM975.5 287.04H1024.39V290.53H975.5zM985.98 290.53H1034.87V294.02H985.98zM992.96 294.02H1045.35V297.51H992.96zM1003.44 297.51H1055.83V301H1003.44zM1013.91 301H1066.3V304.49H1013.91zM1024.39 304.49H1076.78V307.98H1024.39zM1034.87 307.98H1087.26V311.47H1034.87zM1101.23 307.98H1111.7V311.47H1101.23zM1715.91 307.98H1719.4V311.47H1715.91zM1045.35 311.47H1115.2V314.96H1045.35zM1708.92 311.47H1719.4V314.96H1708.92zM1055.83 314.96H1118.69V318.45H1055.83zM1705.43 314.96H1719.4V318.45H1705.43zM1066.3 318.45H1118.69V321.94H1066.3zM1705.43 318.45H1719.4V321.94H1705.43zM1076.78 321.94H1129.17V325.43H1076.78zM1705.43 321.94H1719.4V325.43H1705.43zM1087.26 325.43H1143.14V328.92H1087.26zM1705.43 325.43H1719.4V328.92H1705.43zM1090.75 328.92H1153.62V332.4H1090.75zM1698.45 328.92H1719.4V332.4H1698.45zM1090.75 332.4H1164.09V335.89H1090.75zM1687.97 332.4H1719.4V335.89H1687.97zM1097.74 335.89H1115.2V339.38H1097.74zM1118.69 335.89H1178.06V339.38H1118.69zM1680.98 335.89H1719.4V339.38H1680.98zM1104.72 339.38H1108.21V342.87H1104.72zM1129.17 339.38H1188.54V342.87H1129.17zM1674 339.38H1715.91V342.87H1674zM1143.14 342.87H1202.51V346.36H1143.14zM1663.52 342.87H1705.43V346.36H1663.52zM1153.62 346.36H1212.99V349.85H1153.62zM1656.54 346.36H1698.45V349.85H1656.54zM1167.59 349.85H1223.47V353.34H1167.59zM1649.55 349.85H1691.46V353.34H1649.55zM1178.06 353.34H1237.44V356.83H1178.06zM1254.9 353.34H1265.38V356.83H1254.9zM1639.07 353.34H1680.98V356.83H1639.07zM1188.54 356.83H1268.87V360.32H1188.54zM1632.09 356.83H1674V360.32H1632.09zM1202.51 360.32H1272.36V363.81H1202.51zM1625.1 360.32H1667.01V363.81H1625.1zM1212.99 363.81H1279.35V367.3H1212.99zM1614.62 363.81H1656.54V367.3H1614.62zM1223.47 367.3H1300.3V370.79H1223.47zM1607.64 367.3H1649.55V370.79H1607.64zM1237.44 370.79H1324.75V374.28H1237.44zM1600.66 370.79H1642.57V374.28H1600.66zM1244.42 374.28H1345.7V377.77H1244.42zM1590.18 374.28H1632.09V377.77H1590.18zM1244.42 377.77H1366.66V381.26H1244.42zM1408.57 377.77H1419.05V381.26H1408.57zM1562.24 377.77H1572.72V381.26H1562.24zM1583.19 377.77H1625.1V381.26H1583.19zM1251.41 381.26H1268.87V384.75H1251.41zM1282.84 381.26H1391.11V384.75H1282.84zM1401.58 381.26H1422.54V384.75H1401.58zM1555.25 381.26H1618.12V384.75H1555.25zM1258.39 384.75H1261.88V388.23H1258.39zM1307.29 384.75H1426.03V388.23H1307.29zM1551.76 384.75H1607.64V388.23H1551.76zM1328.24 388.23H1600.66V391.72H1328.24zM1349.2 391.72H1593.67V395.21H1349.2zM1370.15 395.21H1583.19V398.7H1370.15zM1394.6 398.7H1579.7V402.19H1394.6zM1398.09 402.19H1426.03V405.68H1398.09zM1551.76 402.19H1579.7V405.68H1551.76zM1405.08 405.68H1422.54V409.17H1405.08zM1558.75 405.68H1576.21V409.17H1558.75zM1412.06 409.17H1415.55V412.66H1412.06zM1565.73 409.17H1569.22V412.66H1565.73z" fill="#ff00ff"/>
<polygon points="217.38,855.8 353.22,855.8 353.22,859.29 360.2,859.29 360.2,869.76 353.22,869.76 353.22,873.25 217.38,873.25 217.38,869.76 210.4,869.76 210.4,859.29 217.38,859.29" fill="#000000"/>
<polygon points="297.66,852.3 297.66,855.76 297.66,855.76 297.66,859.22 297.66,859.22 297.66,862.69 297.66,862.69 297.66,866.15 297.66,866.15 297.66,869.61 297.66,869.61 297.66,873.08 297.66,873.08 297.66,876.54 297.66,876.54 297.66,880 269.75,880 269.75,876.54 269.75,876.54 269.75,873.08 269.75,873.08 269.75,869.61 269.75,869.61 269.75,866.15 269.75,866.15 269.75,862.69 269.75,862.69 269.75,859.22 269.75,859.22 269.75,855.76 269.75,855.76 269.75,852.3" fill="#000000"/>
<polygon points="217.38,932.4 353.22,932.4 353.22,935.89 360.2,935.89 360.2,946.36 353.22,946.36 353.22,949.85 217.38,949.85 217.38,946.36 210.4,946.36 210.4,935.89 217.38,935.89" fill="#ff0000"/>
<polygon points="287.19,925.4 287.19,928.9 294.18,928.9 294.18,932.4 297.66,932.4 297.66,935.9 297.66,935.9 297.66,939.4 297.66,939.4 297.66,942.9 297.66,942.9 297.66,946.4 297.66,946.4 297.66,949.9 297.66,949.9 297.66,953.4 294.18,953.4 294.18,956.9 287.19,956.9 287.19,960.4 283.7,960.4 283.7,956.9 276.72,956.9 276.72,953.4 273.24,953.4 273.24,949.9 269.75,949.9 269.75,946.4 269.75,946.4 269.75,942.9 269.75,942.9 269.75,939.4 269.75,939.4 269.75,935.9 269.75,935.9 269.75,932.4 273.24,932.4 273.24,928.9 283.7,928.9 283.7,925.4" fill="#ff0000"/>
<polygon points="217.38,1009.2 353.22,1009.2 353.22,1012.69 360.2,1012.69 360.2,1023.16 353.22,1023.16 353.22,1026.65 217.38,1026.65 217.38,1023.16 210.4,1023.16 210.4,1012.69 217.38,1012.69" fill="#00ff00"/>
<polygon points="287.19,998.8 287.19,1002.26 290.69,1002.26 290.69,1005.71 290.69,1005.71 290.69,1009.17 294.18,1009.17 294.18,1012.62 294.18,1012.62 294.18,1016.08 297.66,1016.08 297.66,1019.53 301.15,1019.53 301.15,1022.99 301.15,1022.99 301.15,1026.44 304.64,1026.44 304.64,1029.9 266.25,1029.9 266.25,1026.44 269.75,1026.44 269.75,1022.99 269.75,1022.99 269.75,1019.53 273.24,1019.53 273.24,1016.08 276.72,1016.08 276.72,1012.62 276.72,1012.62 276.72,1009.17 280.21,1009.17 280.21,1005.71 280.21,1005.71 280.21,1002.26 283.7,1002.26 283.7,998.8" fill="#00ff00"/>
<polygon points="217.38,1085.9 353.22,1085.9 353.22,1089.39 360.2,1089.39 360.2,1099.86 353.22,1099.86 353.22,1103.35 217.38,1103.35 217.38,1099.86 210.4,1099.86 210.4,1089.39 217.38,1089.39" fill="#0000ff"/>
<polygon points="287.19,1075.4 287.19,1078.9 290.69,1078.9 290.69,1082.4 294.18,1082.4 294.18,1085.9 297.66,1085.9 297.66,1089.4 301.15,1089.4 301.15,1092.9 304.64,1092.9 304.64,1096.4 301.15,1096.4 301.15,1099.9 297.66,1099.9 297.66,1103.4 294.18,1103.4 294.18,1106.9 290.69,1106.9 290.69,1110.4 287.19,1110.4 287.19,1113.9 280.21,1113.9 280.21,1110.4 276.72,1110.4 276.72,1106.9 273.24,1106.9 273.24,1103.4 273.24,1103.4 273.24,1099.9 269.75,1099.9 269.75,1096.4 266.25,1096.4 266.25,1092.9 269.75,1092.9 269.75,1089.4 273.24,1089.4 273.24,1085.9 276.72,1085.9 276.72,1082.4 280.21,1082.4 280.21,1078.9 283.7,1078.9 283.7,1075.4" fill="#0000ff"/>
<polygon points="217.38,1162.9 353.22,1162.9 353.22,1166.39 360.2,1166.39 360.2,1176.86 353.22,1176.86 353.22,1180.35 217.38,1180.35 217.38,1176.86 210.4,1176.86 210.4,1166.39 217.38,1166.39" fill="#ff8000"/>
<polygon points="290.69,1155.9 290.69,1159.36 294.18,1159.36 294.18,1162.81 297.66,1162.81 297.66,1166.27 297.66,1166.27 297.66,1169.72 297.66,1169.72 297.66,1173.18 297.66,1173.18 297.66,1176.63 297.66,1176.63 297.66,1180.09 297.66,1180.09 297.66,1183.54 297.66,1183.54 297.66,1187 273.24,1187 273.24,1183.54 273.24,1183.54 273.24,1180.09 273.24,1180.09 273.24,1176.63 273.24,1176.63 273.24,1173.18 273.24,1173.18 273.24,1169.72 273.24,1169.72 273.24,1166.27 273.24,1166.27 273.24,1162.81 276.72,1162.81 276.72,1159.36 280.21,1159.36 280.21,1155.9" fill="#ff8000"/>
<polygon points="217.38,1239.5 353.22,1239.5 353.22,1242.99 360.2,1242.99 360.2,1253.46 353.22,1253.46 353.22,1256.95 217.38,1256.95 217.38,1253.46 210.4,1253.46 210.4,1242.99 217.38,1242.99" fill="#ff00ff"/>
<polygon points="290.69,1232.5 290.69,1236.02 294.18,1236.02 294.18,1239.54 297.66,1239.54 297.66,1243.06 297.66,1243.06 297.66,1246.58 297.66,1246.58 297.66,1250.1 297.66,1250.1 297.66,1253.62 297.66,1253.62 297.66,1257.14 297.66,1257.14 297.66,1260.66 294.18,1260.66 294.18,1264.18 287.19,1264.18 287.19,1267.7 283.7,1267.7 283.7,1264.18 276.72,1264.18 276.72,1260.66 269.75,1260.66 269.75,1257.14 269.75,1257.14 269.75,1253.62 269.75,1253.62 269.75,1250.1 269.75,1250.1 269.75,1246.58 269.75,1246.58 269.75,1243.06 269.75,1243.06 269.75,1239.54 273.24,1239.54 273.24,1236.02 280.21,1236.02 280.21,1232.5" fill="#ff00ff"/>
<text x="365.05" y="886.8" font-size="63" textLength="104.58" lengthAdjust="spacingAndGlyphs">700</text>
<text x="365.05" y="963.4" font-size="63" textLength="104.58" lengthAdjust="spacingAndGlyphs">750</text>
<text x="369.4" y="1040.2" font-size="63" textLength="100.12" lengthAdjust="spacingAndGlyphs">800</text>
<text x="384.23" y="1116.9" font-size="63" textLength="144.81" lengthAdjust="spacingAndGlyphs">N700</text>
<text x="384.23" y="1193.9" font-size="63" textLength="144.81" lengthAdjust="spacingAndGlyphs">N750</text>
<text x="384.23" y="1270.5" font-size="63" textLength="144.81" lengthAdjust="spacingAndGlyphs">N800</text>
<text x="112.22" y="150.4" font-size="80.5" textLength="44" lengthAdjust="spacingAndGlyphs">4</text>
<text x="114.44" y="449.6" font-size="78" textLength="39.61" lengthAdjust="spacingAndGlyphs">3</text>
<text x="112.13" y="747.2" font-size="78" textLength="42.1" lengthAdjust="spacingAndGlyphs">2</text>
<text x="113.96" y="1339.4" font-size="78" textLength="40.29" lengthAdjust="spacingAndGlyphs">0</text>
<text transform="translate(108.3 1043) scale(1.15 1)" font-size="74" style="font-family:NanumGothic,'Liberation Sans',sans-serif">1</text>
<text x="130.45" y="1405.8" font-size="78" textLength="104.36" lengthAdjust="spacingAndGlyphs">0.2</text>
<text x="436.57" y="1405.8" font-size="78" textLength="103.72" lengthAdjust="spacingAndGlyphs">0.3</text>
<text x="746.42" y="1405.8" font-size="78" textLength="101.93" lengthAdjust="spacingAndGlyphs">0.4</text>
<text x="1051.97" y="1405.8" font-size="78" textLength="103.72" lengthAdjust="spacingAndGlyphs">0.5</text>
<text x="1357.97" y="1405.8" font-size="78" textLength="103.48" lengthAdjust="spacingAndGlyphs">0.6</text>
<text x="1667.57" y="1405.8" font-size="78" textLength="103.72" lengthAdjust="spacingAndGlyphs">0.7</text>
<text x="603" y="1497.3" font-size="80.5" textLength="697.6" lengthAdjust="spacingAndGlyphs">Potential (V vs RHE)</text>
<text transform="translate(75.2 1007) rotate(-90)" font-size="80.5" textLength="728.5" lengthAdjust="spacingAndGlyphs">Electrons transferred</text>
<g><path d="M343.2 946.35h3.5v3.5h-3.5zM343.2 977.85h3.5v3.5h-3.5zM343.2 981.35h7v3.5h-7zM343.2 984.85h10.5v3.5h-10.5zM343.2 988.35h14v3.5h-14zM343.2 991.85h17.5v3.5h-17.5zM343.2 995.35h21v3.5h-21zM343.2 998.85h24.5v3.5h-24.5zM343.2 1002.35h28v3.5h-28zM343.2 1005.85h31.5v3.5h-31.5zM343.2 1009.35h35v3.5h-35zM343.2 1012.85h38.5v3.5h-38.5zM343.2 1016.35h28v3.5h-28zM343.2 1019.85h10.5v3.5h-10.5zM357.2 1019.85h14v3.5h-14zM343.2 1023.35h7v3.5h-7zM357.2 1023.35h14v3.5h-14zM343.2 1026.85h3.5v3.5h-3.5zM360.7 1026.85h14v3.5h-14zM360.7 1030.35h3.5v3.5h-3.5zM371.2 1030.35h3.5v3.5h-3.5zM364.2 1033.85h14v3.5h-14zM364.2 1037.35h14v3.5h-14zM367.7 1040.85h7v3.5h-7z" fill="#fdfdfd"/><path d="M343.2 949.85h3.5v3.5h-3.5zM339.7 953.35h10.5v3.5h-10.5zM336.2 956.85h17.5v3.5h-17.5zM343.2 960.35h3.5v3.5h-3.5zM343.2 963.85h3.5v3.5h-3.5zM343.2 967.35h3.5v3.5h-3.5zM322.2 970.85h3.5v3.5h-3.5zM364.2 970.85h3.5v3.5h-3.5zM318.7 974.35h7v3.5h-7zM364.2 974.35h7v3.5h-7zM315.2 977.85h21v3.5h-21zM343.2 977.85h3.5v3.5h-3.5zM353.7 977.85h21v3.5h-21zM318.7 981.35h7v3.5h-7zM343.2 981.35h7v3.5h-7zM364.2 981.35h7v3.5h-7zM322.2 984.85h3.5v3.5h-3.5zM343.2 984.85h3.5v3.5h-3.5zM350.2 984.85h3.5v3.5h-3.5zM364.2 984.85h3.5v3.5h-3.5zM343.2 988.35h3.5v3.5h-3.5zM353.7 988.35h3.5v3.5h-3.5zM343.2 991.85h3.5v3.5h-3.5zM357.2 991.85h3.5v3.5h-3.5zM343.2 995.35h3.5v3.5h-3.5zM360.7 995.35h3.5v3.5h-3.5zM336.2 998.85h10.5v3.5h-10.5zM364.2 998.85h3.5v3.5h-3.5zM339.7 1002.35h7v3.5h-7zM367.7 1002.35h3.5v3.5h-3.5zM343.2 1005.85h3.5v3.5h-3.5zM371.2 1005.85h3.5v3.5h-3.5zM343.2 1009.35h3.5v3.5h-3.5zM374.7 1009.35h3.5v3.5h-3.5zM343.2 1012.85h3.5v3.5h-3.5zM364.2 1012.85h17.5v3.5h-17.5zM343.2 1016.35h3.5v3.5h-3.5zM353.7 1016.35h3.5v3.5h-3.5zM367.7 1016.35h3.5v3.5h-3.5zM343.2 1019.85h3.5v3.5h-3.5zM350.2 1019.85h3.5v3.5h-3.5zM357.2 1019.85h3.5v3.5h-3.5zM367.7 1019.85h3.5v3.5h-3.5zM343.2 1023.35h7v3.5h-7zM357.2 1023.35h3.5v3.5h-3.5zM367.7 1023.35h3.5v3.5h-3.5zM343.2 1026.85h3.5v3.5h-3.5zM360.7 1026.85h3.5v3.5h-3.5zM371.2 1026.85h3.5v3.5h-3.5zM360.7 1030.35h3.5v3.5h-3.5zM371.2 1030.35h3.5v3.5h-3.5zM364.2 1033.85h3.5v3.5h-3.5zM374.7 1033.85h3.5v3.5h-3.5zM364.2 1037.35h3.5v3.5h-3.5zM374.7 1037.35h3.5v3.5h-3.5zM367.7 1040.85h7v3.5h-7z" fill="#000"/></g>
</svg>
</body></html>
